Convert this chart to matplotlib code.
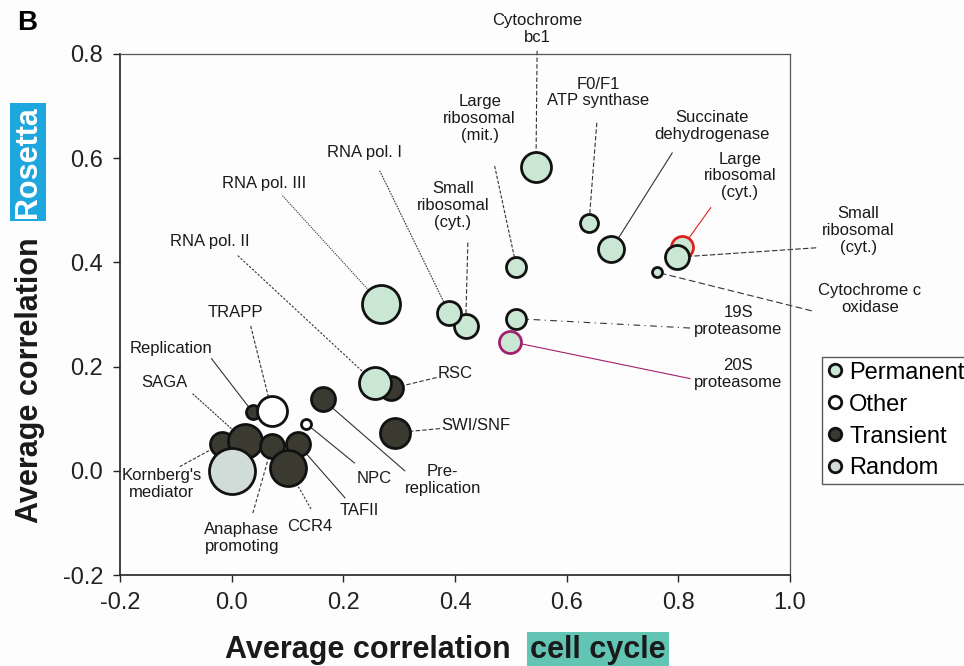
import matplotlib.pyplot as plt
from matplotlib.lines import Line2D

plt.rcParams['font.family'] = ['Liberation Sans', 'DejaVu Sans']

# complexes: label, cell-cycle correlation, Rosetta correlation, class, bubble radius (px)
names = ["Cytochrome\nbc1", "F0/F1\nATP synthase", "Succinate\ndehydrogenase",
         "Large\nribosomal\n(cyt.)", "Small\nribosomal\n(cyt.)", "Cytochrome c\noxidase",
         "Large\nribosomal\n(mit.)", "Small\nribosomal\n(cyt.)", "RNA pol. I",
         "19S\nproteasome", "20S\nproteasome", "RNA pol. III", "RSC", "RNA pol. II",
         "Pre-\nreplication", "SWI/SNF", "NPC", "Replication", "TRAPP", "Kornberg's\nmediator",
         "SAGA", "Anaphase\npromoting", "TAFII", "CCR4", ""]
x_cc = [0.545, 0.640, 0.680, 0.807, 0.798, 0.762, 0.510, 0.419, 0.390, 0.510, 0.499,
        0.267, 0.286, 0.256, 0.163, 0.292, 0.134, 0.038, 0.072, -0.018, 0.023, 0.072,
        0.118, 0.100, 0.000]
y_ros = [0.583, 0.475, 0.425, 0.429, 0.410, 0.381, 0.392, 0.277, 0.302, 0.292, 0.248,
         0.321, 0.158, 0.169, 0.137, 0.073, 0.090, 0.112, 0.115, 0.052, 0.058, 0.048,
         0.052, 0.006, 0.000]
kind = ["Permanent"] * 12 + ["Transient", "Permanent", "Transient", "Transient", "Other",
        "Transient", "Other", "Transient", "Transient", "Transient", "Transient",
        "Transient", "Random"]
radius_px = [15, 9, 13, 11, 12, 5, 10, 12, 12, 10, 11, 19, 12, 16, 12, 15, 5, 7, 15,
             12, 17, 12, 12, 18, 23]
kinds = ["Permanent", "Other", "Transient", "Random"]

# label layout (text centre, line start) in data coords
label_xy = [(0.547, 0.848), (0.656, 0.726), (0.860, 0.662), (0.910, 0.566), (1.122, 0.461),
            (1.143, 0.330), (0.444, 0.676), (0.396, 0.509), (0.238, 0.610), (0.907, 0.288),
            (0.907, 0.186), (0.059, 0.551), (0.400, 0.186), (-0.039, 0.441), (0.378, -0.017),
            (0.437, 0.086), (0.256, -0.015), (-0.108, 0.234), (0.007, 0.303), (-0.125, -0.025),
            (-0.120, 0.169), (0.018, -0.129), (0.229, -0.077), (0.140, -0.106)]
line_from = [(0.547, 0.806), (0.654, 0.668), (0.789, 0.610), (0.858, 0.505), (1.047, 0.428),
             (1.039, 0.307), (0.471, 0.585), (0.423, 0.438), (0.265, 0.576), (0.821, 0.274),
             (0.821, 0.177), (0.091, 0.528), (0.367, 0.179), (0.011, 0.413), (0.310, 0.000),
             (0.373, 0.081), (0.220, 0.015), (-0.036, 0.215), (0.034, 0.278), (-0.093, 0.008),
             (-0.070, 0.148), (0.038, -0.081), (0.203, -0.052), (0.142, -0.073)]
line_ls = [(0, (4, 2)), (0, (4, 2)), '-', '-', (0, (5, 2)), (0, (6, 3)), (0, (3, 1.5)),
           (0, (4, 2)), (0, (1.5, 1)), (0, (6, 4, 1, 4)), '-', (0, (1, 1)), (0, (4, 2)),
           (0, (2, 1.5)), '-', (0, (4, 2)), '-', '-', (0, (3, 1.5)), (0, (3, 1.5)),
           (0, (2, 1)), (0, (3, 2)), '-', (0, (2, 1.5))]

fill = {"Permanent": "#c9e7d2", "Other": "#ffffff", "Transient": "#3b3a30", "Random": "#d0dcd8"}
edge_special = {3: "#e0201c", 10: "#a3206e"}

fig = plt.figure(figsize=(9.64, 6.66), dpi=100, facecolor="#fdfdfd")
ax = fig.add_axes([0.1245, 0.1366, 0.695, 0.7824])
ax.set_facecolor("#fdfdfd")

# leader lines
for i, (tx, ty) in enumerate(label_xy):
    col = edge_special.get(i, "#333333")
    ax.plot([line_from[i][0], x_cc[i]], [line_from[i][1], y_ros[i]], color=col,
            lw=0.8, ls=line_ls[i], zorder=1, clip_on=False)
    ax.text(tx, ty, names[i], ha="center", va="center", fontsize=12,
            linespacing=1.15, color="#1a1a1a", zorder=5, clip_on=False)

# bubbles
for i in range(len(x_cc)):
    s = (2 * radius_px[i] * 0.72) ** 2
    ax.scatter([x_cc[i]], [y_ros[i]], s=s, c=fill[kind[i]],
               edgecolors=edge_special.get(i, "#111111"), linewidths=2.0, zorder=2 + i * 0.01)

ax.set_xlim(-0.2, 1.0)
ax.set_ylim(-0.2, 0.8)
ax.set_xticks([-0.2, 0.0, 0.2, 0.4, 0.6, 0.8, 1.0])
ax.set_yticks([-0.2, 0.0, 0.2, 0.4, 0.6, 0.8])
ax.set_xticklabels(["-0.2", "0.0", "0.2", "0.4", "0.6", "0.8", "1.0"])
ax.set_yticklabels(["-0.2", "0.0", "0.2", "0.4", "0.6", "0.8"])
ax.tick_params(direction="out", length=5, width=1, labelsize=17, pad=7, colors="#222222")
for side in ["left", "bottom"]:
    ax.spines[side].set_linewidth(1.2)
    ax.spines[side].set_color("#222222")
for side in ["top", "right"]:
    ax.spines[side].set_linewidth(0.9)
    ax.spines[side].set_color("#555555")

# axis titles with highlighted dataset names
fig.text(0.2334, 0.024, "Average correlation", fontsize=22, fontweight="bold",
         color="#1a1a1a", ha="left", va="center")
fig.text(0.550, 0.024, "cell cycle", fontsize=22, fontweight="bold", color="#1a1a1a",
         ha="left", va="center",
         bbox=dict(facecolor="#62c4b3", edgecolor="none", pad=2))
fig.text(0.031, 0.215, "Average correlation", fontsize=22, fontweight="bold",
         color="#1a1a1a", rotation=90, ha="center", va="bottom")
fig.text(0.029, 0.673, "Rosetta", fontsize=22, fontweight="bold", color="white",
         rotation=90, ha="center", va="bottom",
         bbox=dict(facecolor="#1ea6df", edgecolor="none", pad=2))
fig.text(0.018, 0.985, "B", fontsize=20, fontweight="bold", ha="left", va="top")

handles = [Line2D([], [], ls="none", marker="o", markersize=9, markerfacecolor=fill[k],
                  markeredgecolor="#111111", markeredgewidth=2.0) for k in kinds]
fig.legend(handles, kinds, loc="upper left", bbox_to_anchor=(822 / 964, 1 - 357 / 666),
           fontsize=17, frameon=True, fancybox=False, edgecolor="#333333",
           borderpad=0.2, handlelength=0.7, handletextpad=0.25, labelspacing=0.42,
           borderaxespad=0)

fig.savefig("out.png", dpi=100, facecolor=fig.get_facecolor())
